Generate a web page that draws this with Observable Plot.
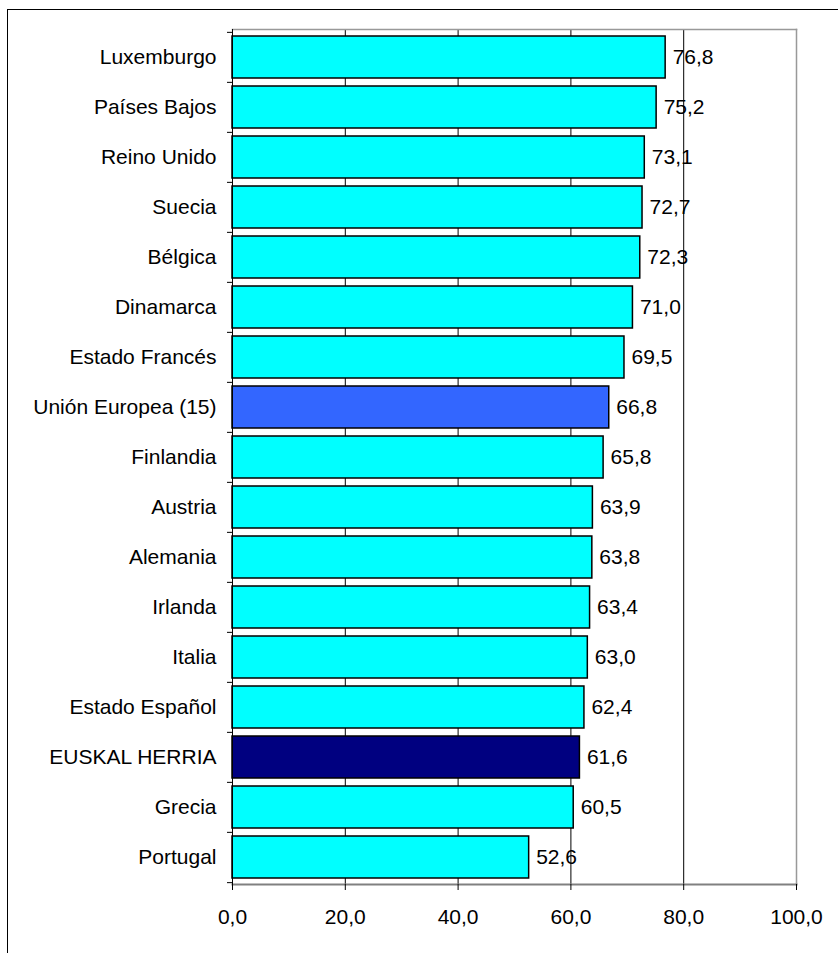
<!DOCTYPE html>
<html>
<head>
<meta charset="utf-8">
<script src="https://cdn.jsdelivr.net/npm/d3@7"></script>
<script src="https://cdn.jsdelivr.net/npm/@observablehq/plot@0.6"></script>
<style>
  html, body { margin: 0; padding: 0; background: #fff; }
  #wrap { position: relative; width: 838px; height: 953px; overflow: hidden; font-family: "Liberation Sans", Arial, sans-serif; }
  #frame { position: absolute; left: 7px; top: 9px; width: 2000px; height: 2000px; border-left: 1px solid #000; border-top: 1px solid #000; box-sizing: border-box; }
  #chart { position: absolute; left: 0; top: 0; }
</style>
</head>
<body>
<div id="wrap"><div id="frame"></div><div id="chart"></div></div>
<script>
const countries = ["Luxemburgo", "Países Bajos", "Reino Unido", "Suecia", "Bélgica", "Dinamarca", "Estado Francés", "Unión Europea (15)", "Finlandia", "Austria", "Alemania", "Irlanda", "Italia", "Estado Español", "EUSKAL HERRIA", "Grecia", "Portugal"];
const values = [76.8, 75.2, 73.1, 72.7, 72.3, 71.0, 69.5, 66.8, 65.8, 63.9, 63.8, 63.4, 63.0, 62.4, 61.6, 60.5, 52.6];
const xTicks = [0, 20, 40, 60, 80, 100];
const gridValues = [20, 40, 60, 80];

const data = countries.map((c, i) => ({country: c, value: values[i]}));
const fillFor = c => c === "Unión Europea (15)" ? "#3366FF" : c === "EUSKAL HERRIA" ? "#000080" : "#00FFFF";
const fmt = v => v.toFixed(1).replace(".", ",");

const W = 838, H = 953, mL = 232, mR = 42, mT = 29, mB = 69;
const step = (H - mT - mB) / countries.length;
const pxPerUnit = (W - mL - mR) / 100;
const tickLen = 5 / pxPerUnit;

const chart = Plot.plot({
  width: W, height: H,
  marginLeft: mL, marginRight: mR, marginTop: mT, marginBottom: mB,
  style: {fontFamily: "'Liberation Sans', Arial, sans-serif", fontSize: "21px", background: "transparent", color: "#000"},
  x: {domain: [0, 100]},
  y: {domain: countries, paddingInner: 0.16, paddingOuter: 0.08},
  marks: [
    Plot.ruleX(gridValues, {stroke: "#000", strokeWidth: 1}),
    Plot.frame({anchor: "top", stroke: "#999", strokeWidth: 1.5}),
    Plot.frame({anchor: "right", stroke: "#999", strokeWidth: 1.5}),
    Plot.barX(data, {x: "value", y: "country", fill: d => fillFor(d.country), stroke: "#000", strokeWidth: 1.5}),
    Plot.frame({anchor: "bottom", stroke: "#808080", strokeWidth: 2}),
    Plot.ruleX([0], {stroke: "#000", strokeWidth: 1}),
    Plot.ruleY(countries, {y: d => d, x1: -tickLen, x2: 0, dy: -step / 2, stroke: "#000"}),
    Plot.ruleY(countries.slice(-1), {y: d => d, x1: -tickLen, x2: 0, dy: step / 2, stroke: "#000"}),
    Plot.text(data, {x: "value", y: "country", text: d => fmt(d.value), dx: 7, textAnchor: "start", fontSize: 21, fill: "#000"}),
    Plot.axisY({tickSize: 0, tickPadding: 16, fontSize: 21, label: null}),
    Plot.axisX({ticks: xTicks, tickSize: 6, tickPadding: 19, tickFormat: fmt, fontSize: 21, label: null})
  ]
});
document.getElementById("chart").appendChild(chart);
</script>
</body>
</html>
